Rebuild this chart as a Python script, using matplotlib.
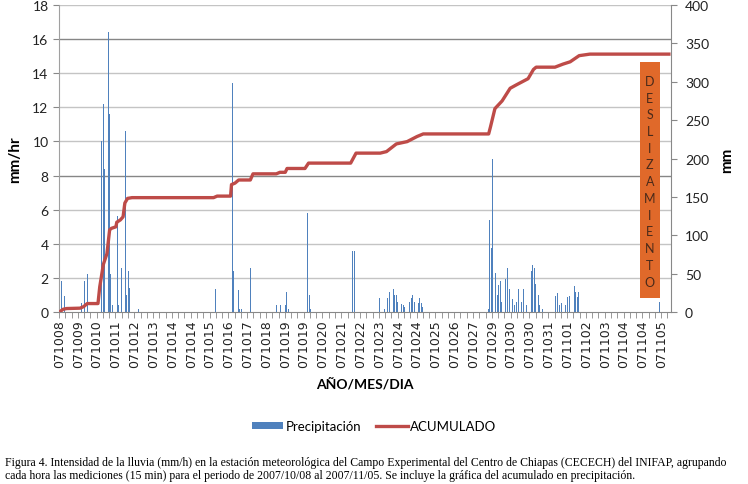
import numpy as np
import matplotlib
matplotlib.use('Agg')
import matplotlib.pyplot as plt
from matplotlib.patches import Rectangle, Patch
from matplotlib.lines import Line2D

# hourly categories from 2007/10/08 to 2007/11/05
n_hours = 683

# nonzero hourly rain (mm/hr): hour index and value
rain_hour = [2, 5, 6, 25, 28, 31, 33, 44, 47, 49, 50, 52, 53, 55, 56, 57, 59, 61, 63, 65,
             66, 69, 71, 73, 74, 75, 77, 78, 82, 88,
             167, 174, 193, 194, 197, 198, 200, 201, 203, 213, 215, 216,
             242, 244, 247, 252, 253, 254, 256, 275, 277, 279, 280, 327, 329, 331,
             357, 359, 363, 366, 368, 370, 371, 373, 374, 376, 377, 379, 382, 384, 385,
             388, 390, 391, 393, 394, 396, 398, 399, 401, 402, 404, 405, 407,
             479, 480, 482, 483, 484, 485, 486, 487, 489, 490, 492, 493, 495, 496, 498,
             500, 502, 504, 505, 506, 508, 510, 512, 514, 516, 518, 521, 524, 525, 527,
             528, 530, 531, 533, 535, 536, 539,
             554, 556, 558, 560, 562, 565, 567, 569, 571, 573, 575, 576, 578, 579, 581,
             582, 590, 670]
rain_val = [1.8, 0.8, 0.95, 0.5, 1.8, 2.2, 0.3, 7.0, 10.0, 12.2, 8.4, 9.75, 3.2, 16.4, 11.6,
            2.2, 0.4, 0.8, 1.8, 5.6, 0.4, 2.6, 2.4, 8.0, 10.6, 1.0, 2.4, 1.4, 0.2, 0.15,
            0.4, 1.35, 13.4, 2.4, 0.4, 3.0, 1.3, 0.2, 0.2, 2.6, 2.2, 1.3,
            0.4, 0.6, 0.4, 0.4, 1.2, 2.2, 0.2, 1.0, 5.8, 1.0, 0.2, 3.6, 3.6, 2.0,
            0.8, 0.3, 0.2, 0.8, 1.2, 0.8, 1.25, 1.37, 1.0, 0.97, 0.6, 0.4, 0.45, 0.4, 0.3,
            0.6, 0.2, 0.6, 0.8, 0.97, 0.6, 0.58, 0.5, 0.5, 0.8, 0.5, 0.3, 0.15,
            0.2, 5.4, 3.75, 9.0, 3.4, 6.1, 2.7, 2.3, 1.0, 1.56, 1.8, 0.6, 1.56, 0.9, 1.95,
            2.56, 1.37, 2.2, 0.7, 0.75, 0.4, 0.6, 1.33, 0.4, 0.6, 1.33, 0.4, 0.78, 1.56, 2.4,
            2.73, 2.56, 1.66, 0.98, 1.0, 0.4, 0.15,
            0.95, 1.1, 0.4, 0.5, 0.8, 0.4, 0.9, 0.95, 1.15, 0.8, 1.55, 1.2, 0.9, 1.15, 1.35,
            0.3, 0.2, 0.6]

# accumulated rain (mm), breakpoints
acum_hour = [0, 4, 8, 23, 27, 31, 43, 45, 49, 53, 56, 58, 63, 64, 68, 71, 73, 76, 81,
             172, 176, 191, 192, 196, 200, 213, 216, 242, 246, 252, 254, 274, 278, 325, 331,
             347, 358, 365, 376, 388, 399, 406, 479, 481, 486, 494, 503, 510, 523, 529, 532,
             553, 562, 570, 580, 592, 682]
acum_val = [0, 3.5, 4.5, 5, 7, 11, 11, 33, 62, 76, 107, 109, 111, 117, 120, 124, 142, 148, 149,
            149, 151, 151, 166, 168, 172, 172, 180, 180, 182, 182, 187, 187, 194, 194, 207,
            207, 207, 209, 219, 222, 228.6, 232, 232, 241, 265, 275, 291.5, 296, 304, 316, 319,
            319, 323, 326, 334, 336, 336]

day_labels = ['071008', '071009', '071010', '071011', '071012', '071013', '071014', '071014',
              '071015', '071016', '071017', '071018', '071019', '071019', '071020', '071021',
              '071022', '071023', '071024', '071024', '071025', '071026', '071027', '071029',
              '071030', '071030', '071031', '071101', '071102', '071103', '071104', '071104',
              '071105']

sans = ['Lato', 'DejaVu Sans']
blue = '#4F81BD'
red = '#BE4B48'

fig = plt.figure(figsize=(7.48, 4.85), dpi=100)
ax = fig.add_axes([59/748, 1 - 313/485, 612/748, 307/485])

ax.bar(rain_hour, rain_val, width=0.8, color=blue, linewidth=0, zorder=2)
ax.set_xlim(-0.5, n_hours - 0.5)
ax.set_ylim(0, 18)
ax.set_yticks(np.arange(0, 19, 2))
for v in range(2, 19, 2):
    dark = v in (8, 16)
    ax.axhline(v, color='#868686' if dark else '#C4C4C4', lw=1.0, zorder=1)

ax.set_xticks([21 * k for k in range(len(day_labels))])
ax.set_xticklabels(day_labels, rotation=90, fontsize=9, family='DejaVu Sans', color='#222222')
ax.set_xticks(np.arange(-0.5, n_hours, 7), minor=True)
ax.tick_params(axis='x', which='major', length=0, pad=5)
ax.tick_params(axis='x', which='minor', length=4, color='#888888', direction='out')
ax.tick_params(axis='y', length=4, color='#888888', labelsize=10, labelcolor='#222222')
for lab in ax.get_yticklabels():
    lab.set_family(sans)

for s in ['top', 'right']:
    ax.spines[s].set_visible(False)
ax.spines['left'].set_color('#A0A0A0')
ax.spines['bottom'].set_color('#888888')

ax2 = ax.twinx()
ax2.plot(acum_hour, acum_val, color=red, lw=2.4, solid_capstyle='butt', zorder=3)
ax2.set_ylim(0, 400)
ax2.set_yticks(np.arange(0, 401, 50))
ax2.tick_params(axis='y', length=4, color='#888888', labelsize=10, labelcolor='#222222', pad=6)
for lab in ax2.get_yticklabels():
    lab.set_family(sans)
for s in ['top', 'left', 'bottom']:
    ax2.spines[s].set_visible(False)
ax2.spines['right'].set_color('#888888')

# DESLIZAMIENTO box
ax2.add_patch(Rectangle((0.949, 0.045), 0.033, 0.77, transform=ax2.transAxes,
                        facecolor='#E0692A', edgecolor='none', zorder=4))
word = 'DESLIZAMIENTO'
for i, ch in enumerate(word):
    ax2.text(0.9655, 0.753 - i * 0.0545, ch, transform=ax2.transAxes, ha='center', va='center',
             fontsize=9, family=sans, color='#4A2A1A', zorder=5)

fig.text(15/748, 1 - 160/485, 'mm/hr', rotation=90, ha='center', va='center',
         fontsize=11, fontweight='bold', family=sans)
fig.text(727/748, 1 - 160/485, 'mm', rotation=90, ha='center', va='center',
         fontsize=11, fontweight='bold', family=sans)
fig.text(365/748, 1 - 384/485, 'AÑO/MES/DIA', ha='center', va='center',
         fontsize=10, fontweight='bold', family=sans)

handles = [Patch(facecolor=blue, edgecolor='none'), Line2D([], [], color=red, lw=2.4)]
fig.legend(handles, ['Precipitación', 'ACUMULADO'], loc='center', ncol=2, frameon=False,
           bbox_to_anchor=(374/748, 1 - 427/485), prop={'family': sans, 'size': 9.5},
           handlelength=2.4, handleheight=0.5, columnspacing=1.1, handletextpad=0.2)

cap1 = ('Figura 4. Intensidad de la lluvia (mm/h) en la estación meteorológica del Campo '
        'Experimental del Centro de Chiapas (CECECH) del INIFAP, agrupando')
cap2 = ('cada hora las mediciones (15 min) para el periodo de 2007/10/08 al 2007/11/05. '
        'Se incluye la gráfica del acumulado en precipitación.')
fig.text(5/748, 1 - 463/485, cap1, ha='left', va='center', fontsize=8.5, family='Liberation Serif')
fig.text(5/748, 1 - 476/485, cap2, ha='left', va='center', fontsize=8.5, family='Liberation Serif')

fig.savefig('out.png', dpi=100)
